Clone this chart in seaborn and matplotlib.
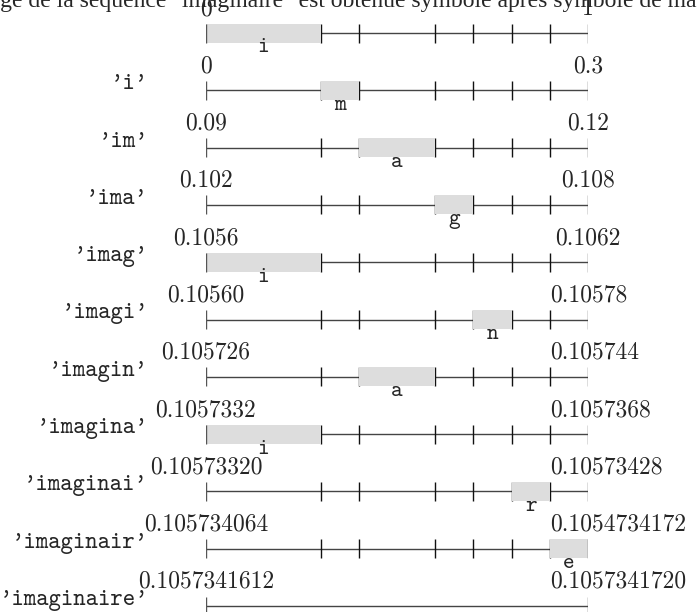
import numpy as np
import matplotlib
matplotlib.use("Agg")
import matplotlib.pyplot as plt
import seaborn as sns

# alphabet and probabilities used by the arithmetic coder
symbols = ['i', 'm', 'a', 'g', 'n', 'r', 'e']
probs = [0.3, 0.1, 0.2, 0.1, 0.1, 0.1, 0.1]

# symbol coded at each step, prefix already coded, interval bounds (as printed)
coded = ['i', 'm', 'a', 'g', 'i', 'n', 'a', 'i', 'r', 'e']
prefixes = ["", "'i'", "'im'", "'ima'", "'imag'", "'imagi'", "'imagin'",
            "'imagina'", "'imaginai'", "'imaginair'", "'imaginaire'"]
low_labels = ["0", "0", "0.09", "0.102", "0.1056", "0.10560", "0.105726",
              "0.1057332", "0.10573320", "0.105734064", "0.1057341612"]
high_labels = ["1", "0.3", "0.12", "0.108", "0.1062", "0.10578", "0.105744",
               "0.1057368", "0.10573428", "0.1054734172", "0.1057341720"]

caption = "L'image de la séquence \"imaginaire\" est obtenue symbole après symbole de manière itérative"

sns.set_theme(style="white")
plt.rcParams['font.family'] = ['cmr10', 'DejaVu Serif']

bounds = np.concatenate([[0], np.cumsum(probs)])
start = dict(zip(symbols, bounds[:-1]))
width = dict(zip(symbols, probs))

W, H = 697, 612
row_px = 57.3
top_px = 33
fig = plt.figure(figsize=(W / 100, H / 100), dpi=100)
ax = fig.add_axes([206 / W, 0, 382 / W, 1])
ax.set_xlim(0, 1)
ax.set_ylim((H - top_px) / row_px, -top_px / row_px)
ax.axis('off')
renderer = fig.canvas.get_renderer()

h = 9.5 / row_px
for i in range(len(prefixes)):
    ax.hlines(i, 0, 1, color='#444444', lw=1, zorder=1)
    ax.vlines([0, 1], i - h, i + h, color='#555555', lw=1, zorder=3)
    if i < len(coded):
        ax.vlines(bounds[1:-1], i - h, i + h, color='#111111', lw=1, zorder=1)
        s = coded[i]
        ax.barh(i, width[s], left=start[s], height=2 * h, color='#dddddd',
                zorder=2, linewidth=0)
        ax.text(start[s] + width[s] / 2, i + 15 / row_px, s, family='cmtt10',
                ha='center', va='center', fontsize=16, zorder=4)
    ax.text(0, i - 18 / row_px, low_labels[i], ha='center', va='baseline',
            fontsize=17, clip_on=False)
    # long upper bounds start at a fixed place instead of being centred
    t = ax.text(1, i - 18 / row_px, high_labels[i], ha='center', va='baseline',
                fontsize=17, clip_on=False)
    tw = t.get_window_extent(renderer).width / 382
    if 1 - tw / 2 < -38 / 382 + 1:
        t.set_x(1 - 38 / 382)
        t.set_ha('left')
    if prefixes[i]:
        ax.text(-58 / 382, i - 1 / row_px, prefixes[i], ha='right', va='baseline',
                family='cmtt10', fontsize=17, clip_on=False)

# caption, cut off by the top edge as in the original
probe = fig.text(0, 0, "L'ima", family='Liberation Serif', fontsize=17)
shift = probe.get_window_extent(renderer).width
probe.remove()
fig.text(-shift / W, 1 - 7 / H, caption, family='Liberation Serif', fontsize=17,
         ha='left', va='baseline')

fig.savefig("out.png", dpi=100)
